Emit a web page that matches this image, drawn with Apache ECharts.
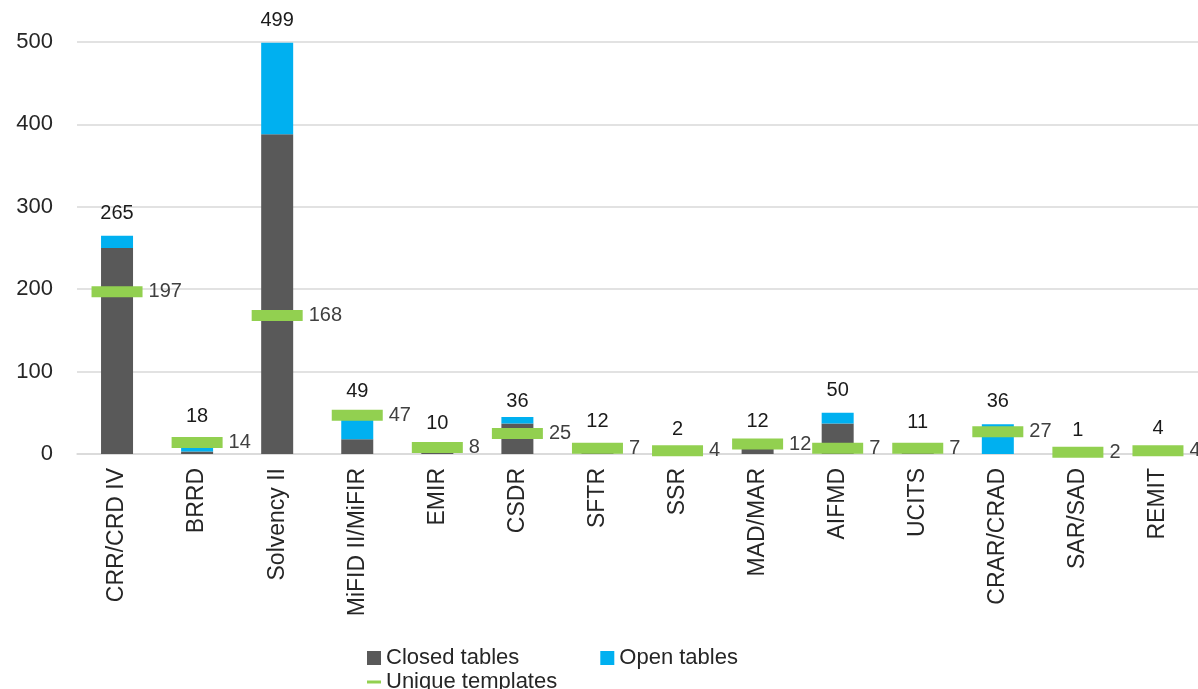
<!DOCTYPE html>
<html>
<head>
<meta charset="utf-8">
<script src="https://cdn.jsdelivr.net/npm/echarts@6/dist/echarts.min.js"></script>
<style>
  html, body { margin: 0; padding: 0; background: #fff; }
  #chart { width: 1198px; height: 689px; }
</style>
</head>
<body>
<div id="chart"></div>
<script>
// frameworks on the x axis
const categories = ["CRR/CRD IV", "BRRD", "Solvency II", "MiFID II/MiFIR", "EMIR", "CSDR", "SFTR",
  "SSR", "MAD/MAR", "AIFMD", "UCITS", "CRAR/CRAD", "SAR/SAD", "REMIT"];
const closedTables = [250, 3, 388, 18, 10, 37, 12, 2, 12, 37, 11, 0, 1, 4];
const openTables = [15, 15, 111, 31, 0, 8, 0, 0, 0, 13, 0, 36, 0, 0];
const totalLabels = [265, 18, 499, 49, 10, 36, 12, 2, 12, 50, 11, 36, 1, 4];
const uniqueTemplates = [197, 14, 168, 47, 8, 25, 7, 4, 12, 7, 7, 27, 2, 4];
const yTicks = { min: 0, max: 500, interval: 100 };

const font = "'Liberation Sans', Arial, sans-serif";
let chart = echarts.init(document.getElementById("chart"));

chart.setOption({
  animation: false,
  textStyle: { fontFamily: font },
  grid: { left: 77, right: 0, top: 42, bottom: 235 },
  legend: [
    {
      left: 362, top: 642,
      itemWidth: 14, itemHeight: 14, itemGap: 81,
      textStyle: { fontSize: 22, color: "#262626", fontFamily: font },
      data: [
        { name: "Closed tables", icon: "rect" },
        { name: "Open tables", icon: "rect" }
      ]
    },
    {
      left: 362, top: 666,
      itemWidth: 14, itemHeight: 3,
      textStyle: { fontSize: 22, color: "#262626", fontFamily: font },
      data: [{ name: "Unique templates", icon: "rect" }]
    }
  ],
  xAxis: {
    type: "category",
    data: categories,
    axisLine: { lineStyle: { color: "#d9d9d9", width: 1.5 } },
    axisTick: { show: false },
    axisLabel: {
      rotate: 90, interval: 0, margin: 14,
      fontSize: 23, color: "#262626", fontFamily: font
    }
  },
  yAxis: {
    type: "value",
    min: yTicks.min, max: yTicks.max, interval: yTicks.interval,
    axisLine: { show: false },
    axisTick: { show: false },
    splitLine: { lineStyle: { color: "#d9d9d9", width: 1.5 } },
    axisLabel: { margin: 24, fontSize: 22, color: "#262626", fontFamily: font }
  },
  series: [
    {
      name: "Closed tables",
      type: "bar",
      stack: "t",
      barWidth: 32,
      itemStyle: { color: "#595959" },
      data: closedTables
    },
    {
      name: "Open tables",
      type: "bar",
      stack: "t",
      barWidth: 32,
      itemStyle: { color: "#00b0f0" },
      data: openTables
    },
    {
      name: "Unique templates",
      type: "scatter",
      symbol: "rect",
      symbolSize: [51, 11],
      z: 3,
      itemStyle: { color: "#92d050", opacity: 1 },
      label: {
        show: true, position: "right", distance: 6,
        fontSize: 20, color: "#404040", fontFamily: font
      },
      data: uniqueTemplates
    },
    {
      name: "Total",
      type: "scatter",
      symbolSize: 1,
      z: 4,
      itemStyle: { color: "rgba(0,0,0,0)", opacity: 1 },
      label: {
        show: true, position: "top", distance: 12,
        fontSize: 20, color: "#1a1a1a", fontFamily: font
      },
      data: totalLabels
    }
  ]
});
</script>
</body>
</html>
